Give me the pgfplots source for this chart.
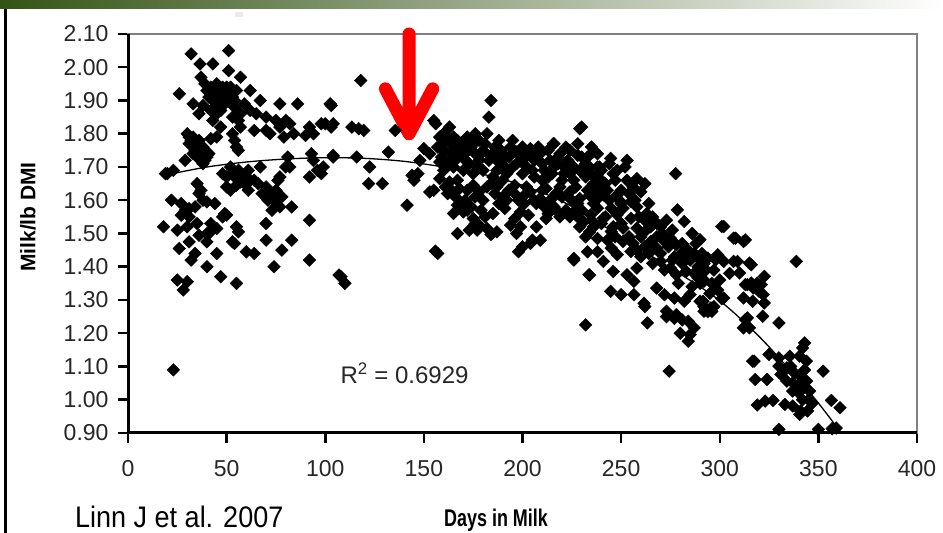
\documentclass[border=0pt]{standalone}
\usepackage{pgfplots}
\pgfplotsset{compat=1.18}
\usepackage{fontspec}
\setmainfont{Liberation Sans}
\definecolor{bardark}{RGB}{52,84,22}
\definecolor{barmid}{RGB}{128,148,108}
\definecolor{framegray}{RGB}{128,128,128}
\definecolor{arrowred}{RGB}{255,0,0}
\begin{document}
\begin{tikzpicture}
\useasboundingbox (0,0) rectangle (943bp,533bp);
\fill[white] (0,0) rectangle (943bp,533bp);
% slide decoration
\shade[left color=bardark, middle color=barmid, right color=white] (0,524bp) rectangle (943bp,533bp);
\draw[line width=2.5bp] (5.3bp,0) -- (5.3bp,524bp);
\fill[black!8] (235bp,516bp) rectangle (243bp,521bp);
\begin{axis}[
  at={(128bp,100bp)}, anchor=south west,
  scale only axis, width=789bp, height=399bp,
  xmin=0, xmax=400, ymin=0.9, ymax=2.1,
  xtick={0,50,...,400},
  ytick={0.9,1.0,1.1,1.2,1.3,1.4,1.5,1.6,1.7,1.8,1.9,2.0,2.1},
  tick pos=left, tick align=outside,
  major tick length=10bp,
  tick style={black, line width=2.5bp},
  axis line style={framegray, line width=2bp},
  tick label style={font=\fontsize{23bp}{26bp}\selectfont, text=black!85},
  /pgf/number format/assume math mode=true,
  yticklabel style={/pgf/number format/fixed, /pgf/number format/fixed zerofill, /pgf/number format/precision=2, xshift=-6bp},
  xticklabel style={yshift=-14bp},
  clip=false,
]
% polynomial trend line
\addplot[black, line width=1.3bp, smooth] coordinates {
(20,1.677) (40,1.700) (60,1.715) (80,1.724) (100,1.728) (120,1.726) (140,1.717)
(160,1.700) (180,1.678) (200,1.645) (220,1.597) (240,1.527) (260,1.452) (280,1.378)
(300,1.298) (320,1.190) (340,1.060) (350,0.990) (361,0.905)
};
% observations
\addplot[only marks, mark=square*, mark size=4.5bp, mark options={rotate=45, fill=black, draw=black}] coordinates {
(32,2.04) (51,2.05) (36.5,2.01) (43,2.01) (51,1.99) (37,1.97) (57,1.97) (26,1.92)
(40,1.93) (44,1.92) (47,1.935) (50,1.925) (52,1.94) (48,1.91) (62,1.93) (67,1.90) (77,1.89) (86,1.89) (103,1.885)
(33,1.89) (38,1.885) (42,1.87) (36,1.86) (54,1.88) (57,1.86) (53,1.85) (62,1.87) (65,1.86) (70,1.85) (75,1.84) (80,1.84)
(47,1.82) (64,1.81) (70,1.81) (77,1.82) (82,1.83) (84,1.80) (92,1.82) (94,1.80) (98,1.83) (103,1.82) (90,1.795)
(72,1.80) (79,1.79)
(30,1.80) (32,1.78) (34,1.76) (36,1.75) (38,1.74) (40,1.73) (31,1.77) (33,1.79) (35,1.77) (37,1.76)
(42,1.785) (45,1.79) (53,1.80) (54,1.78) (55,1.76) (56,1.75) (57,1.82)
(29,1.72) (20,1.68) (23,1.69) (19,1.68)
(48,1.68) (52,1.70) (55,1.665) (58,1.67) (61,1.69) (64,1.66) (67,1.70) (60,1.65) (66,1.65)
(77,1.67) (80,1.70) (81,1.73) (82,1.70)
(93,1.74) (94,1.72) (96,1.69) (98,1.68) (92,1.67) (104,1.73)
(50,1.64) (52,1.63) (55,1.645) (57,1.655) (61,1.63)
(35,1.65) (36,1.62) (38,1.60) (37,1.63) (40,1.595)
(70,1.64) (72,1.62) (74,1.60) (75,1.63) (77,1.58) (78,1.61) (73,1.57) (76,1.66)
(22,1.60) (27,1.59) (29,1.57) (27,1.555) (31,1.575) (34,1.58) (31,1.55)
(44,1.59) (49,1.56) (48,1.55) (50,1.555)
(83,1.58) (92,1.54) (70,1.53)
(18,1.52) (25,1.51) (30,1.52) (35,1.53) (40,1.50) (42,1.53) (36,1.495)
(41,1.50) (45,1.515) (55,1.52) (56,1.505)
(26,1.455) (31,1.475) (34,1.44) (40,1.475) (45,1.44) (53,1.475) (54,1.47) (70,1.48) (78,1.45) (83,1.48)
(60,1.445) (64,1.44)
(32,1.42) (40,1.40) (47,1.37) (55,1.35) (74,1.40) (92,1.42)
(25,1.36) (30,1.355) (28,1.33)
(23,1.09)
(107,1.375) (108,1.37) (110,1.35)
(42,1.94) (45,1.95) (46,1.90) (49,1.89) (51,1.905) (53,1.91) (44,1.88) (47,1.87)
(33,1.74) (35,1.73) (38,1.71) (39,1.72)
(68,1.62) (71,1.60) (73,1.615)
(39,1.95) (41,1.91) (43,1.90) (46,1.93) (48,1.94) (50,1.94) (52,1.92) (54,1.90) (55,1.93) (45,1.86) (43,1.84) (56,1.84) (59,1.89)
(31,1.79) (33,1.77) (34,1.75) (36,1.78) (38,1.76) (39,1.75) (41,1.74)
(50,1.67) (53,1.68) (56,1.69) (59,1.65) (62,1.66)
(118,1.96) (102.5,1.89) (100,1.83) (104,1.83) (113.5,1.82) (117,1.815) (119.5,1.81) (135.5,1.81)
(104,1.735) (116,1.73) (132,1.745) (99,1.70) (122.5,1.70) (122,1.65) (129,1.65) (141.5,1.585)
(148,1.72) (150,1.755) (145,1.66) (144,1.675) (147,1.68) (153,1.625)
(155,1.84) (163,1.82) (183,1.85) (184,1.90) (156,1.83)
(158,1.79) (163,1.78) (167,1.78) (170,1.775) (175,1.77) (160,1.80) (165,1.79) (172,1.79) (178,1.78) (182,1.80)
(195,1.78) (204,1.755) (216,1.77) (229,1.815) (230,1.82)
(197,1.745) (203,1.74) (209,1.74) (228,1.735) (235,1.76) (233,1.73)
(153,1.74) (158,1.715) (163,1.715) (170,1.735) (173,1.71) (178,1.72) (184,1.735)
(187,1.69) (192,1.68) (189,1.715)
(218,1.71) (224,1.68) (221,1.70) (229,1.69) (238,1.70)
(158,1.665) (163,1.655) (168,1.635) (175,1.645) (178,1.625) (184,1.65)
(196,1.645) (201,1.615) (204,1.625) (209,1.605) (212,1.635)
(224,1.625) (229,1.605) (234,1.615) (238,1.635)
(167,1.585) (170,1.565) (175,1.545) (178,1.525) (182,1.515)
(191,1.575) (196,1.545) (199,1.565) (194,1.525)
(212,1.545) (218,1.565)
(226,1.565) (231,1.535) (234,1.505) (238,1.485) (233,1.445) (238,1.445)
(167,1.50) (173,1.51) (177,1.51) (184,1.497) (187,1.505)
(199,1.52) (204,1.47) (209,1.48) (200,1.46) (205,1.48)
(157,1.44) (198,1.445) (226,1.425) (234,1.375) (232,1.225)
(155,1.63) (155.8,1.447)
(160,1.75) (165,1.76) (168,1.74) (172,1.75) (176,1.74) (180,1.75) (186,1.76) (190,1.74) (193,1.73) (200,1.72) (206,1.72) (210,1.71) (214,1.72) (219,1.74) (224,1.75) (232,1.71)
(160,1.69) (165,1.70) (170,1.69) (175,1.68) (180,1.69) (185,1.67) (190,1.66) (195,1.70) (200,1.68) (206,1.67) (210,1.66) (215,1.68) (220,1.66) (226,1.66) (232,1.67) (236,1.65)
(162,1.62) (166,1.61) (171,1.60) (180,1.60) (186,1.62) (190,1.61) (198,1.60) (207,1.59) (214,1.60) (220,1.61) (228,1.59) (236,1.59)
(172,1.57) (185,1.56) (203,1.555) (216,1.58) (222,1.57) (230,1.57)
(160,1.77) (176,1.80) (188,1.78) (200,1.76) (208,1.76) (213,1.75) (222,1.76) (228,1.77) (238,1.74)
(157,1.76) (159,1.73) (161,1.71) (164,1.74) (166,1.72) (169,1.76) (171,1.72) (174,1.76) (177,1.70) (179,1.74) (181,1.77) (183,1.72) (185,1.74) (187,1.72) (189,1.75) (191,1.70) (194,1.76) (197,1.71) (199,1.74) (202,1.70) (205,1.69) (207,1.74) (211,1.69) (213,1.67) (216,1.70) (218,1.73) (221,1.68) (223,1.72) (226,1.70) (230,1.73) (231,1.68) (234,1.70) (237,1.67)
(161,1.64) (164,1.63) (167,1.66) (172,1.63) (176,1.61) (182,1.64) (187,1.64) (193,1.63) (196,1.62) (202,1.64) (206,1.60) (210,1.63) (217,1.62) (219,1.64) (225,1.60) (227,1.64) (233,1.63) (237,1.61)
(169,1.59) (174,1.58) (179,1.57) (188,1.59) (192,1.60) (201,1.59) (211,1.58) (213,1.56) (219,1.55) (224,1.55) (228,1.55) (235,1.54)
(165,1.56) (176,1.53) (181,1.55) (197,1.50) (207,1.52) (229,1.52) (236,1.52) (232,1.49)
(244.7,1.726) (253,1.72) (277.6,1.68) (236,1.746) (215.6,1.77) (205,1.748)
(239,1.70) (246,1.68) (234.5,1.68) (240,1.69) (244,1.71) (248,1.69) (252,1.70)
(258,1.665) (260,1.625) (256,1.64) (262,1.65)
(234.5,1.626) (241,1.616) (248,1.616) (255,1.596) (251,1.576) (245,1.576) (238,1.576)
(278.5,1.571) (282,1.536) (268,1.531) (302,1.521) (308,1.486) (313,1.481) (290,1.481)
(234.5,1.556) (241,1.546) (248,1.556) (255,1.546) (258,1.516) (262,1.506) (251,1.516) (245,1.506)
(265,1.476) (268,1.456) (272,1.476) (275,1.486) (278,1.466) (283,1.456) (280,1.436)
(251,1.476) (255,1.446) (245,1.456) (248,1.436)
(294,1.426) (299,1.436) (302,1.416) (309,1.416) (316,1.406)
(241,1.416) (246,1.386) (253,1.376) (258,1.396) (256.5,1.356)
(270,1.416) (275,1.396) (278,1.376) (283,1.386) (289,1.366) (292,1.356)
(314,1.346) (317,1.336) (321,1.346)
(244.7,1.326) (250,1.316) (256.5,1.316)
(268,1.336) (272,1.316) (277,1.306) (282,1.296) (285,1.316) (290,1.296)
(292,1.266) (295.5,1.276) (302,1.306)
(261.6,1.29) (263.3,1.231) (262,1.28)
(273,1.266) (278,1.256) (284,1.236)
(280,1.20) (285,1.196) (287,1.216) (284,1.176)
(314,1.246) (315,1.216) (317.4,1.116) (274.3,1.086)
(226,1.42) (233.7,1.376)
(273,1.25) (277,1.245) (281,1.24) (292,1.28) (294,1.265) (297,1.28)
(236,1.64) (242,1.65) (250,1.63) (254,1.62) (239,1.61) (244,1.60) (250,1.59) (258,1.58) (263,1.56) (262,1.54) (266,1.55) (270,1.52) (273,1.54) (276,1.51) (286,1.50) (288,1.47) (260,1.49) (256,1.47) (264,1.44) (270,1.44) (260,1.43) (285,1.42) (292,1.41) (297,1.39) (289,1.40) (295,1.32) (300,1.36) (305,1.38) (286,1.34) (279,1.35)
(240,1.66) (243,1.63) (247,1.66) (249,1.60) (253,1.66) (257,1.60) (259,1.55) (264,1.59) (265,1.52) (268,1.49) (271,1.50) (274,1.46) (277,1.43) (281,1.47) (284,1.43) (287,1.44) (291,1.44) (293,1.39) (296,1.35) (299,1.33) (287,1.38) (281,1.41) (276,1.42) (272,1.39) (266,1.41) (262,1.46) (258,1.45) (254,1.49) (250,1.53) (246,1.52) (242,1.55) (240,1.53) (243,1.48) (247,1.49)
(301,1.521) (307,1.486) (312,1.476)
(298,1.421) (290,1.421) (307,1.416) (315,1.411)
(310,1.381) (338.8,1.416) (290,1.38) (292,1.36) (290,1.35)
(322.6,1.371) (313,1.346) (316,1.351) (319,1.351) (320,1.326) (322,1.316)
(312,1.306) (316.7,1.296) (322.6,1.291) (301,1.304)
(293,1.271) (296,1.266) (291.5,1.296)
(321.8,1.251) (313,1.241) (312,1.216) (330,1.231)
(343,1.171) (342,1.156) (325,1.136) (330,1.126) (335.5,1.131) (340.5,1.131)
(316.7,1.116) (343.9,1.116) (330,1.101) (334,1.096) (331,1.076) (352.4,1.086)
(318,1.061) (324,1.061) (334,1.056) (337,1.051) (340,1.046) (344,1.056) (342.5,1.036) (340,1.021) (345.5,1.026) (337,1.026)
(319,0.984) (323,0.996) (327,0.998) (333,0.986) (337,0.981) (341,0.966) (344.5,0.966) (340.5,0.956)
(356.6,0.998) (361,0.976)
(330,0.911) (350,0.911) (357,0.913) (359,0.915)
(338,1.08) (341,1.07) (343,1.09) (336,1.10) (339,1.04) (345,1.00) (347,0.99) (342,1.00)
};
% axis lines: left and bottom black, frame top/right grey
\draw[black, line width=3bp] (rel axis cs:0,1) -- (rel axis cs:0,0) -- (rel axis cs:1,0);
\node[anchor=base west, font=\fontsize{24bp}{26bp}\selectfont, text=black!85] at (axis cs:106,1.05) {R\textsuperscript{2} = 0.6929};
% red arrow
\draw[arrowred, line width=13bp, line cap=round, line join=round]
  (axis cs:142.5,2.10) -- (axis cs:142.5,1.80)
  (axis cs:130.5,1.935) -- (axis cs:142.5,1.80) -- (axis cs:154.5,1.935);
\end{axis}
\node[rotate=90, font=\bfseries\fontsize{21bp}{22bp}\selectfont] at (28bp,316bp) {Milk/lb DMI};
\node[anchor=base west, inner sep=0pt, font=\bfseries\fontsize{23bp}{26bp}\selectfont] at (444bp,7bp) {\scalebox{0.78}[1.05]{Days in Milk}};
\node[anchor=base west, inner sep=0pt, font=\fontsize{27bp}{30bp}\selectfont] at (75bp,6bp) {\scalebox{1}[1.1]{Linn J et al. 2007}};
\end{tikzpicture}
\end{document}
